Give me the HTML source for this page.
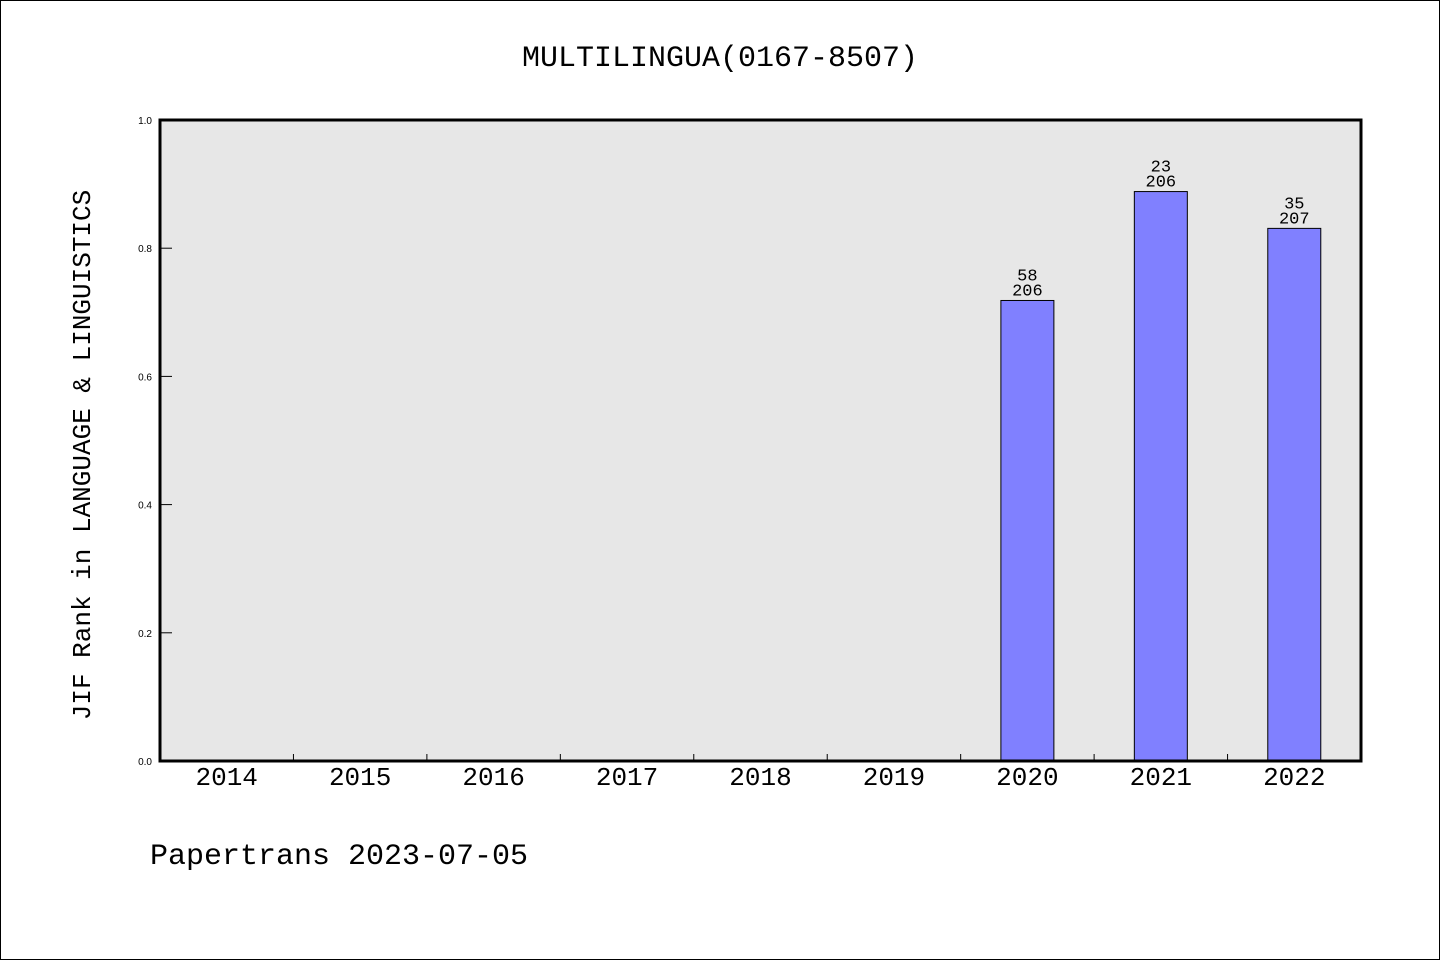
<!DOCTYPE html>
<html><head><meta charset="utf-8"><style>
html,body{margin:0;padding:0;background:#fff;}
svg{display:block;}
</style></head><body>
<svg id="chart" width="1440" height="960" xmlns="http://www.w3.org/2000/svg">
<rect x="0.5" y="0.5" width="1439" height="959" fill="#fff" stroke="#000" stroke-width="1"/>
<text x="720" y="66" text-anchor="middle" font-family="'WenQuanYi Zen Hei','Liberation Mono',monospace" font-size="30" fill="#000">MULTILINGUA(0167-8507)</text>
<rect x="160" y="120" width="1201" height="641" fill="#e7e7e7"/>
<g id="ticks"></g>
<g id="bars"></g>
<rect x="160" y="120" width="1201" height="641" fill="none" stroke="#000" stroke-width="3"/>
<text transform="translate(90,455) rotate(-90)" text-anchor="middle" font-family="'WenQuanYi Zen Hei','Liberation Mono',monospace" font-size="26" fill="#000">JIF Rank in LANGUAGE &amp; LINGUISTICS</text>
<text x="150" y="864" font-family="'WenQuanYi Zen Hei','Liberation Mono',monospace" font-size="30" fill="#000">Papertrans 2023-07-05</text>
</svg>
<script>
const categories = ['2014','2015','2016','2017','2018','2019','2020','2021','2022'];
const ranks = [null,null,null,null,null,null,58,23,35];
const totals = [null,null,null,null,null,null,206,206,207];
const yTicks = [0.0,0.2,0.4,0.6,0.8,1.0];
const yTickLabels = ['0.0','0.2','0.4','0.6','0.8','1.0'];

const X0=160, X1=1361, Y0=761, Y1=120;
const NS='http://www.w3.org/2000/svg';
const band=(X1-X0)/categories.length;
const xC=i=>X0+band*(i+0.5);
const yS=v=>Y0-(Y0-Y1)*v;
const font="'WenQuanYi Zen Hei','Liberation Mono',monospace";
function mk(tag,attrs){const e=document.createElementNS(NS,tag);for(const k in attrs)e.setAttribute(k,attrs[k]);return e;}
const tg=document.getElementById('ticks'), bg=document.getElementById('bars');

yTicks.forEach((v,i)=>{
  const l=mk('line',{x1:X0,x2:X0+12,y1:yS(v),y2:yS(v),stroke:'#000','stroke-width':1});
  
  
  tg.appendChild(l);
  const t=mk('text',{x:X0-8,y:yS(v)+4,'text-anchor':'end','font-family':"'Liberation Sans',sans-serif",'font-size':10,fill:'#000'});
  t.textContent=yTickLabels[i];
  
  
  tg.appendChild(t);
});
categories.forEach((c,i)=>{
  if(i>0){
    const bx=X0+band*i;
    const l=mk('line',{x1:bx,x2:bx,y1:Y0,y2:Y0-7,stroke:'#000','stroke-width':1});
    
    
    tg.appendChild(l);
  }
  const t=mk('text',{x:xC(i),y:785,'text-anchor':'middle','font-family':font,'font-size':26,fill:'#000'});
  t.textContent=c;
  
  
  tg.appendChild(t);
  if(ranks[i]!=null){
    const v=1-ranks[i]/totals[i];
    const w=53, top=yS(v);
    const r=mk('rect',{x:xC(i)-w/2,y:top,width:w,height:Y0-top,fill:'#8080ff',stroke:'#000','stroke-width':1});
    
    
    bg.appendChild(r);
    const t1=mk('text',{x:xC(i),y:top-20,'text-anchor':'middle','font-family':font,'font-size':17,fill:'#000'});
    t1.textContent=ranks[i];
    
    
    bg.appendChild(t1);
    const t2=mk('text',{x:xC(i),y:top-5,'text-anchor':'middle','font-family':font,'font-size':17,fill:'#000'});
    t2.textContent=totals[i];
    
    
    bg.appendChild(t2);
  }
});
</script>
</body></html>
